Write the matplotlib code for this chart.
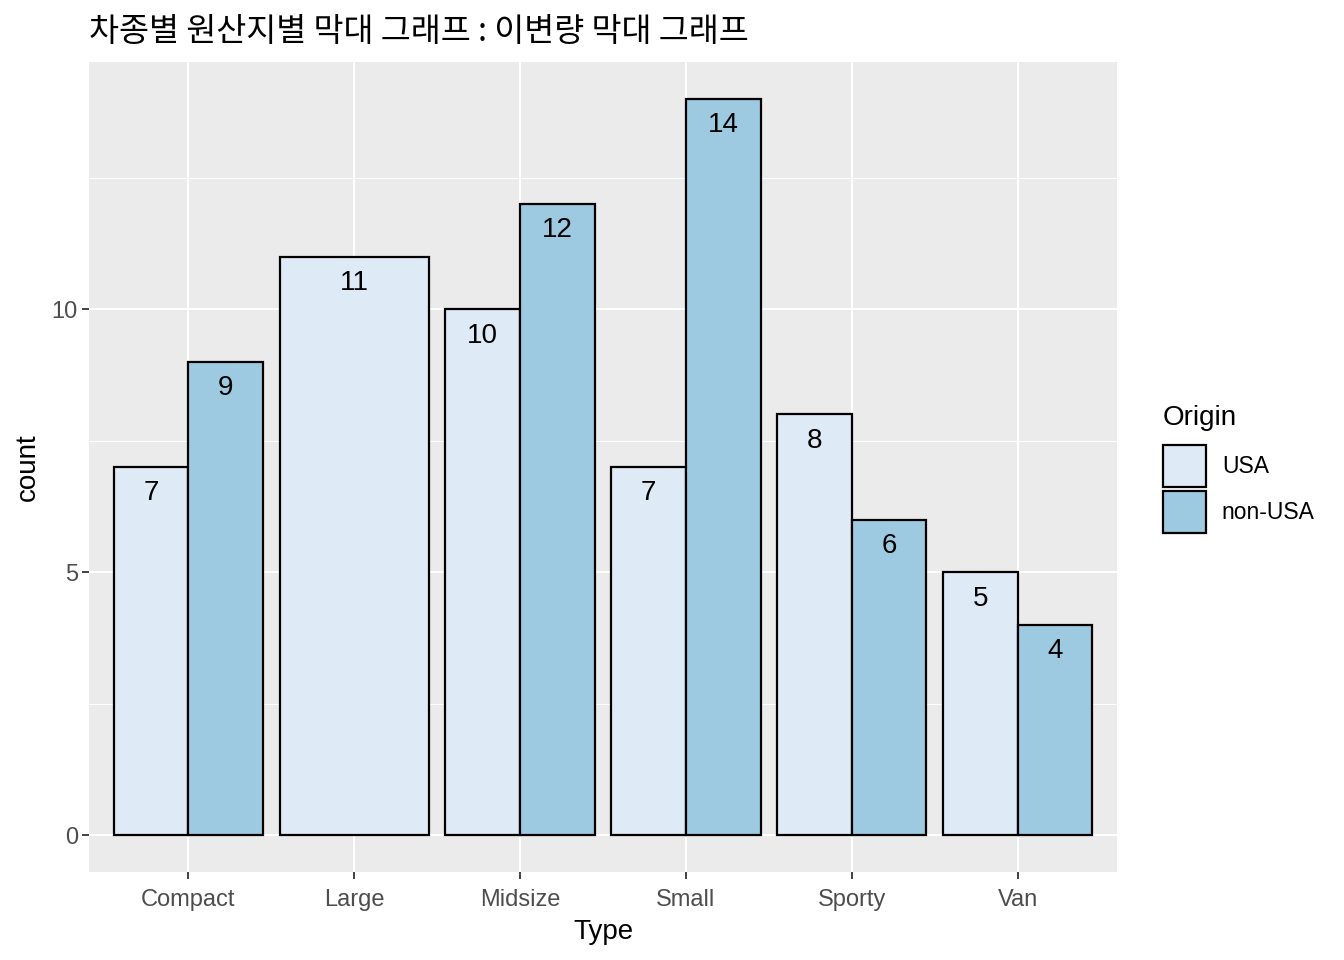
import numpy as np
import matplotlib.pyplot as plt
from matplotlib.patches import Patch

plt.rcParams['font.family'] = ['Liberation Sans', 'Noto Sans CJK KR', 'DejaVu Sans']

# 데이터
types = ['Compact', 'Large', 'Midsize', 'Small', 'Sporty', 'Van']
usa = [7, 11, 10, 7, 8, 5]
non_usa = [9, 0, 12, 14, 6, 4]
origins = ['USA', 'non-USA']
colors = ['#DEEBF7', '#9ECAE1']

fig = plt.figure(figsize=(13.44, 9.6), dpi=100)
ax = fig.add_axes([89 / 1344, 88 / 960, 1028 / 1344, 810 / 960])
ax.set_facecolor('#EBEBEB')

x = np.arange(1, len(types) + 1)
w = 0.9
for i, xi in enumerate(x):
    vals = [usa[i], non_usa[i]]
    present = [k for k in range(2) if vals[k] > 0]
    n = len(present)
    bw = w / n
    for j, k in enumerate(present):
        cx = xi - w / 2 + bw * (j + 0.5)
        ax.bar(cx, vals[k], width=bw, color=colors[k], edgecolor='black',
               linewidth=1.6, zorder=3)
        ax.annotate(str(vals[k]), (cx, vals[k]), xytext=(0, -24),
                    textcoords='offset points', ha='center', va='baseline',
                    fontsize=20, color='black', zorder=4)

ax.set_xlim(0.4, 6.6)
ax.set_ylim(-0.7, 14.7)
ax.set_xticks(x)
ax.set_xticklabels(types)
ax.set_yticks([0, 5, 10])
ax.set_yticks([2.5, 7.5, 12.5], minor=True)
ax.grid(True, which='major', color='white', linewidth=1.5, zorder=0)
ax.grid(True, which='minor', axis='y', color='white', linewidth=0.75, zorder=0)
ax.set_axisbelow(True)
for s in ax.spines.values():
    s.set_visible(False)
ax.tick_params(axis='both', which='major', length=5, width=1.3, color='#333333',
               labelsize=17, labelcolor='#4D4D4D')
ax.tick_params(axis='x', which='major', pad=7)
ax.tick_params(axis='y', which='major', pad=3)
ax.tick_params(axis='y', which='minor', length=0)

ax.set_xlabel('Type', fontsize=20, labelpad=6)
ax.set_ylabel('count', fontsize=20, labelpad=8)
ax.set_title('차종별 원산지별 막대 그래프 : 이변량 막대 그래프', fontsize=23.5, loc='left',
             pad=15, family=['Noto Sans CJK KR', 'DejaVu Sans'])

# 범례
fig.text(1163 / 1344, 1 - 418 / 960, 'Origin', fontsize=20, ha='left', va='center')
handles = [Patch(facecolor=c, edgecolor='black', linewidth=1.6) for c in colors]
leg = fig.legend(handles, origins, loc='upper left',
                 bbox_to_anchor=(1142 / 1344, 1 - 424 / 960), frameon=False,
                 fontsize=16.5, handlelength=1.88,
                 handleheight=2.45, labelspacing=0.17, handletextpad=0.7)

plt.savefig('out.png', dpi=100)
